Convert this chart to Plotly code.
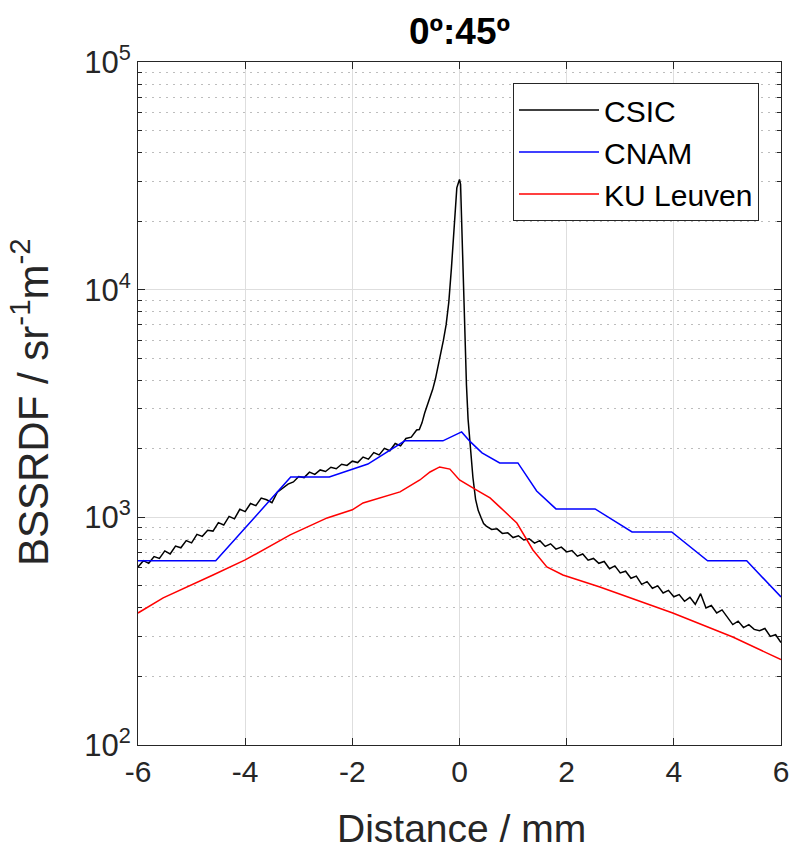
import plotly.graph_objects as go

# ---------------- data ----------------
csic_x = [-6.0, -5.9, -5.8, -5.7, -5.6, -5.5, -5.4, -5.3, -5.2, -5.1,
          -5.0, -4.9, -4.8, -4.7, -4.6, -4.5, -4.4, -4.3, -4.2, -4.1,
          -4.0, -3.9, -3.8, -3.7, -3.6, -3.5, -3.4, -3.3, -3.2, -3.1,
          -3.0, -2.9, -2.8, -2.7, -2.6, -2.5, -2.4, -2.3, -2.2, -2.1,
          -2.0, -1.9, -1.8, -1.7, -1.6, -1.5, -1.4, -1.3, -1.2, -1.1,
          -1.0, -0.9, -0.8, -0.75, -0.7, -0.65, -0.6, -0.55, -0.5, -0.45,
          -0.4, -0.35, -0.3, -0.25, -0.2, -0.15, -0.1, -0.05, -0.02, 0.0,
          0.02, 0.05, 0.08, 0.1, 0.13, 0.16, 0.2, 0.25, 0.3, 0.35,
          0.4, 0.45, 0.5, 0.6, 0.7, 0.8, 0.9, 1.0, 1.1, 1.2,
          1.3, 1.4, 1.5, 1.6, 1.7, 1.8, 1.9, 2.0, 2.1, 2.2,
          2.3, 2.4, 2.5, 2.6, 2.7, 2.8, 2.9, 3.0, 3.1, 3.2,
          3.3, 3.4, 3.5, 3.6, 3.7, 3.8, 3.9, 4.0, 4.1, 4.2,
          4.3, 4.4, 4.5, 4.6, 4.7, 4.8, 4.9, 5.0, 5.1, 5.2,
          5.3, 5.4, 5.5, 5.6, 5.7, 5.8, 5.9, 6.0]
csic_y = [605, 645, 628, 672, 660, 712, 690, 748, 735, 790,
          772, 842, 825, 878, 870, 948, 925, 1010, 985, 1085,
          1060, 1150, 1125, 1215, 1195, 1160, 1290, 1340, 1400, 1430,
          1510, 1495, 1580, 1545, 1615, 1590, 1660, 1635, 1710, 1690,
          1765, 1740, 1840, 1800, 1925, 1880, 2010, 1960, 2110, 2060,
          2220, 2250, 2420, 2430, 2600, 2870, 3100, 3350, 3650, 4050,
          4600, 5300, 6000, 7000, 8800, 12500, 18500, 28000, 29500, 30500,
          29000, 16000, 9000, 6000, 3800, 2700, 2100, 1500, 1200, 1070,
          1000, 940, 915, 885, 890, 850, 855, 815, 830, 795,
          805, 770, 790, 745, 765, 725, 740, 705, 715, 675,
          690, 648, 660, 628, 640, 595, 612, 570, 580, 540,
          552, 508, 522, 488, 500, 465, 478, 448, 458, 428,
          445, 415, 462, 400, 410, 380, 392, 365, 338, 350,
          328, 338, 322, 318, 325, 300, 305, 282]

cnam_x = [-6.0, -4.55, -3.15, -2.43, -1.71, -1.02, -0.31, 0.04, 0.2, 0.42,
          0.75, 1.09, 1.44, 1.80, 2.53, 3.22, 3.96, 4.63, 5.36, 6.0]
cnam_y = [644, 644, 1503, 1503, 1714, 2168, 2168, 2373, 2150, 1919,
          1734, 1734, 1306, 1089, 1089, 863, 863, 644, 644, 447]

ku_x = [-6.0, -5.53, -4.6, -4.0, -3.16, -2.47, -2.0, -1.8, -1.11, -0.74,
        -0.55, -0.37, -0.18, 0.0, 0.32, 0.57, 0.75, 1.07, 1.37, 1.63,
        1.93, 2.62, 3.98, 5.10, 6.0]
ku_y = [380, 443, 558, 650, 837, 994, 1079, 1157, 1293, 1459,
        1582, 1665, 1629, 1459, 1318, 1217, 1112, 944, 719, 605,
        558, 494, 380, 298, 237]

x_ticks = [-6, -4, -2, 0, 2, 4, 6]
y_ticks = [100, 1000, 10000, 100000]
y_ticktext = ["10<sup>2</sup>", "10<sup>3</sup>", "10<sup>4</sup>", "10<sup>5</sup>"]
y_minor = [m * 10 ** k for k in (2, 3, 4) for m in range(2, 10)]

series_names = ["CSIC", "CNAM", "KU Leuven"]
series_colors = ["#000000", "#0000FF", "#FF0000"]

title_text = "<b>0º:45º</b>"
x_title = "Distance / mm"
y_title = "BSSRDF / sr<sup>-1</sup>m<sup>-2</sup>"

# ---------------- figure ----------------
W, H = 794, 851
L, R, T, B = 138, 13, 62, 106
PW, PH = W - L - R, H - T - B

fig = go.Figure()
for name, xs, ys, col in zip(series_names, [csic_x, cnam_x, ku_x],
                             [csic_y, cnam_y, ku_y], series_colors):
    fig.add_trace(go.Scatter(x=xs, y=ys, mode="lines", name=name,
                             line=dict(color=col, width=1.5)))

axis_col = "#262626"
fig.update_layout(
    width=W, height=H, autosize=False,
    margin=dict(l=L, r=R, t=T, b=B, autoexpand=False),
    paper_bgcolor="white", plot_bgcolor="white",
    font=dict(family="Liberation Sans, Arial, sans-serif", color=axis_col, size=30),
    title=dict(text=title_text, x=(L + (W - R)) / 2 / W, xanchor="center",
               y=1 - 31 / H, yanchor="middle",
               font=dict(size=37, color="#000000")),
    showlegend=True,
    legend=dict(x=(759 - L) / PW, y=(H - B - 83) / PH, xanchor="right", yanchor="top",
                bgcolor="white", bordercolor=axis_col, borderwidth=1,
                font=dict(size=30, color="#000000"),
                itemwidth=80, tracegroupgap=0),
    annotations=[
        dict(text=x_title, xref="paper", yref="paper",
             x=(461 - L) / PW, y=-(828 - (H - B)) / PH,
             xanchor="center", yanchor="middle", showarrow=False,
             font=dict(size=39, color=axis_col)),
        dict(text=y_title, xref="paper", yref="paper",
             x=-(L - 30) / PW, y=(H - B - 402) / PH, textangle=-90,
             xanchor="center", yanchor="middle", showarrow=False,
             font=dict(size=42, color=axis_col)),
    ],
)
fig.update_xaxes(
    range=[-6, 6], tickvals=x_ticks, ticktext=[str(v) for v in x_ticks],
    showgrid=True, gridcolor="#DEDEDE", gridwidth=1, automargin=False,
    zeroline=False, showline=True, linecolor=axis_col, linewidth=1,
    mirror="ticks", ticks="inside", ticklen=7, tickcolor=axis_col,
    tickfont=dict(size=30),
)
fig.update_yaxes(
    type="log", range=[2, 5], tickvals=y_ticks, ticktext=y_ticktext,
    showgrid=True, gridcolor="#DEDEDE", gridwidth=1, automargin=False,
    zeroline=False, showline=True, linecolor=axis_col, linewidth=1,
    mirror="ticks", ticks="inside", ticklen=7, tickcolor=axis_col,
    tickfont=dict(size=31),
    minor=dict(tickvals=y_minor, showgrid=True, gridcolor="#BDBDBD",
               griddash="2px,5px", gridwidth=1, ticks="inside", ticklen=4,
               tickcolor=axis_col),
)

fig.write_html("out.html",
               config={"displayModeBar": False, "responsive": False},
               post_script="document.body.style.margin='0';"
                           "document.body.style.overflow='hidden';")
